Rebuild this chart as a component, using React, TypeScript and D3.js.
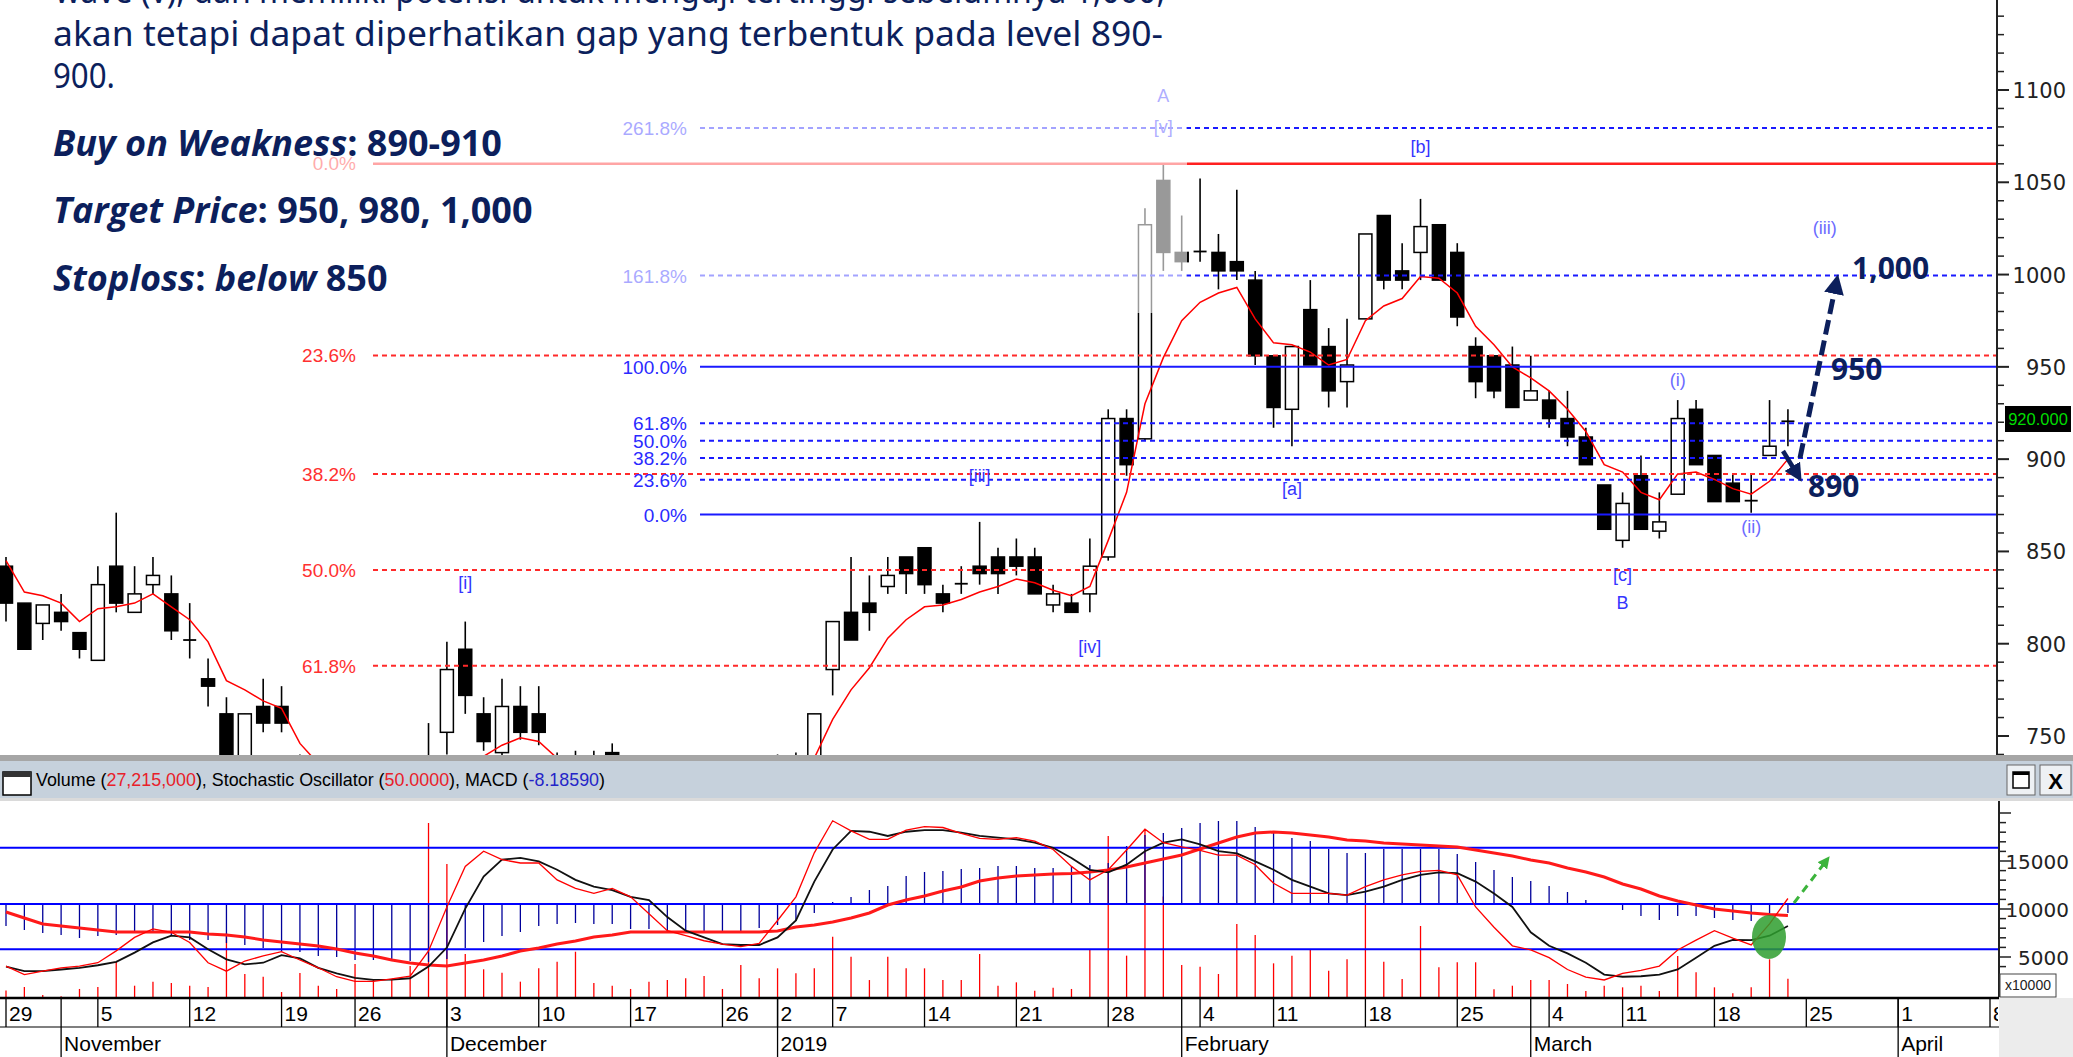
import React from 'react';
import * as d3 from 'd3';

const W = 2073;
const H = 1057;

// trading calendar (IDX holidays removed)
const holidays = ['2018-11-20', '2018-12-24', '2018-12-25', '2018-12-31', '2019-01-01', '2019-02-05', '2019-03-07'];
const fmt = d3.timeFormat('%Y-%m-%d');
const tradingDays = d3.timeDay
    .range(new Date(2018, 9, 29), new Date(2019, 3, 13))
    .filter(d => d.getDay() !== 0 && d.getDay() !== 6 && !holidays.includes(fmt(d)));
const idxOf = (s: string) => tradingDays.findIndex(d => fmt(d) === s);

const dayTicks = ['2018-10-29', '2018-11-05', '2018-11-12', '2018-11-19', '2018-11-26', '2018-12-03', '2018-12-10', '2018-12-17', '2018-12-26', '2019-01-02', '2019-01-07', '2019-01-14', '2019-01-21', '2019-01-28', '2019-02-04', '2019-02-11', '2019-02-18', '2019-02-25', '2019-03-04', '2019-03-11', '2019-03-18', '2019-03-25', '2019-04-01', '2019-04-08'];
const monthTicks = ['2018-11-01', '2018-12-03', '2019-01-02', '2019-02-01', '2019-03-01', '2019-04-01'];
const monthLabels = ['November', 'December', '2019', 'February', 'March', 'April'];

// OHLC, Oct 29 2018 .. Mar 22 2019
const opens = [842, 822, 811, 817, 806, 791, 842, 817, 832, 827, 802, 781, 762, 735, 766, 766, 735, 725, 720, 716, 705, 712, 708, 702, 752, 797, 762, 741, 766, 762, 738, 728, 735, 741, 730, 725, 728, 722, 716, 720, 718, 726, 735, 732, 736, 786, 817, 822, 831, 847, 852, 827, 832, 842, 847, 847, 847, 821, 822, 827, 847, 922, 911, 1051, 1012, 1012, 1012, 1007, 997, 956, 927, 981, 961, 942, 976, 1032, 1002, 1012, 1027, 1012, 961, 956, 951, 932, 932, 922, 912, 886, 856, 891, 861, 881, 927, 902, 887, 877, 902, 921];
const highs = [847, 822, 821, 827, 806, 842, 871, 842, 847, 837, 822, 792, 771, 762, 781, 777, 740, 732, 728, 722, 715, 720, 715, 757, 801, 812, 771, 781, 777, 777, 741, 742, 742, 746, 738, 735, 736, 730, 726, 728, 730, 738, 740, 741, 762, 812, 847, 837, 847, 847, 852, 832, 842, 866, 852, 857, 852, 832, 827, 857, 927, 927, 1036, 1060, 1032, 1052, 1022, 1046, 1002, 956, 961, 997, 971, 976, 1022, 1032, 1017, 1041, 1027, 1017, 966, 956, 961, 956, 937, 937, 917, 886, 882, 902, 882, 932, 932, 902, 892, 892, 932, 927];
const lows = [812, 797, 802, 807, 792, 791, 817, 817, 827, 802, 792, 766, 728, 728, 752, 752, 720, 715, 712, 700, 700, 705, 698, 700, 740, 762, 742, 738, 748, 745, 725, 722, 725, 728, 720, 718, 720, 712, 710, 712, 715, 722, 725, 728, 734, 772, 802, 807, 827, 827, 827, 817, 827, 832, 827, 837, 827, 817, 817, 817, 845, 891, 910, 1002, 1002, 1007, 992, 997, 951, 917, 907, 951, 928, 928, 976, 992, 992, 997, 997, 972, 933, 933, 928, 932, 917, 907, 897, 862, 852, 862, 857, 881, 897, 877, 877, 871, 902, 907];
const closes = [822, 797, 821, 812, 797, 832, 822, 827, 837, 807, 802, 777, 735, 762, 757, 757, 725, 720, 716, 705, 712, 708, 702, 736, 786, 772, 747, 766, 752, 752, 728, 735, 730, 732, 725, 728, 722, 716, 720, 718, 726, 735, 732, 736, 762, 812, 802, 817, 837, 838, 832, 822, 833, 838, 838, 842, 827, 827, 817, 842, 922, 897, 1027, 1012, 1007, 1013, 1002, 1002, 956, 928, 961, 951, 937, 951, 1022, 997, 997, 1026, 997, 977, 942, 937, 928, 937, 922, 912, 897, 862, 876, 862, 866, 922, 897, 877, 877, 878, 907, 920];
// 5-day average, red line
const ma5 = [845, 828, 826, 822, 812, 819, 820, 822, 827, 820, 813, 801, 780, 775, 769, 765, 746, 735, 728, 720, 714, 712, 710, 714, 725, 733, 739, 745, 749, 747, 738, 735, 734, 733, 732, 730, 727, 725, 722, 720, 721, 724, 727, 731, 738, 759, 775, 787, 803, 813, 820, 821, 824, 828, 831, 835, 833, 829, 826, 831, 856, 882, 930, 955, 975, 985, 990, 993, 976, 963, 962, 958, 951, 954, 975, 983, 987, 999, 998, 990, 972, 962, 950, 944, 937, 927, 915, 897, 893, 882, 878, 892, 893, 889, 884, 881, 888, 900];

// volume in x10000 shares
const volume = [1500, 1875, 1040, 900, 1670, 1875, 4510, 2010, 2430, 2290, 2010, 1875, 7500, 3230, 2950, 1350, 3330, 2010, 1670, 4270, 2600, 2600, 4060, 18960, 14690, 5310, 3720, 3370, 2430, 3820, 4510, 5550, 2290, 2010, 1670, 2430, 2600, 2780, 3020, 1670, 4170, 2780, 3820, 3300, 3820, 7120, 5030, 2600, 5030, 3820, 3820, 2600, 2600, 5310, 2000, 2360, 1490, 1800, 1670, 5730, 17600, 5140, 18230, 11290, 4170, 3990, 3230, 8440, 7290, 4340, 5140, 5730, 3580, 4760, 10520, 4510, 2710, 8230, 3920, 4450, 4450, 1630, 2010, 2600, 2600, 2190, 1460, 2010, 1840, 2010, 1460, 5100, 3400, 1840, 1220, 1840, 4760, 2722];
const macdHist = [-22, -26, -29, -31, -34, -32, -31, -28, -28, -32, -36, -36, -39, -41, -44, -47, -48, -52, -53, -56, -56, -57, -57, -58, -55, -44, -38, -32, -28, -22, -20, -19, -20, -20, -25, -25, -28, -27, -27, -27, -27, -24, -21, -17, -9, 2, 7, 14, 18, 28, 32, 33, 35, 36, 38, 38, 36, 36, 38, 39, 41, 58, 69, 71, 76, 81, 83, 83, 77, 71, 66, 63, 55, 51, 51, 55, 55, 55, 55, 50, 42, 34, 27, 23, 18, 12, 4, 1, -6, -12, -16, -12, -12, -14, -16, -17, -11, -9];
const macdSignal = [-8, -14, -20, -22, -24, -26, -28, -28, -28, -28, -28, -30, -31, -33, -36, -38, -40, -42, -45, -49, -52, -56, -59, -61, -62, -59, -56, -52, -47, -44, -40, -37, -33, -31, -28, -28, -28, -28, -28, -28, -28, -28, -27, -23, -21, -18, -14, -9, -1, 4, 8, 13, 17, 23, 26, 28, 29, 30, 30.5, 32, 34, 37, 41, 45, 49, 55, 61, 67, 71, 72, 71, 69, 67, 64, 63, 61, 60, 59, 58, 57, 54, 51, 48, 44, 41, 36, 32, 27, 20, 15, 8, 3, -1, -5, -7, -9, -10.5, -11.5];
const stochK = [10, 5, 7, 9, 10, 12, 19, 27, 32, 30, 24, 12, 7, 13, 16, 18.5, 13.6, 9, 3.7, 1, 1, 2.5, 4, 19, 45, 69, 78, 73, 71, 71, 61, 56, 53, 56, 51, 41, 31, 28, 25, 23, 21.5, 23.5, 37, 51, 77, 96, 90, 85, 85, 90.5, 92.5, 92, 88.5, 85.6, 85, 86, 84, 79, 69, 61, 67, 78.7, 91, 83, 80.6, 78.5, 75.7, 75.7, 70, 59, 53, 53, 53, 52, 57, 61, 64, 66, 66.6, 64, 45, 33, 22, 19.6, 15, 8, 3.5, 1.8, 5.7, 7.5, 10, 19.5, 25.4, 31, 26.6, 22.5, 35, 50];
const stochD = [9.7, 7, 7, 8, 9, 10.5, 12.5, 18, 24, 28, 27, 20, 14, 11, 12, 16.5, 14.6, 9, 5.7, 3, 1.8, 2, 2.8, 9.7, 21, 44, 63, 73, 74, 72, 67, 61, 57, 55, 51, 49, 39, 31, 27, 23, 22.5, 22.5, 27, 37, 60, 79, 90, 89.5, 87, 89.5, 90.5, 90.5, 89, 87, 86, 85, 83, 80, 74, 67, 65.5, 70, 78, 83, 85, 82, 78, 76.7, 72, 67, 61, 57, 53, 52, 54, 57, 61, 64, 65.5, 65, 60, 53, 45, 30, 22, 17.5, 12, 5, 3.7, 4, 5, 8, 15, 22, 25.5, 25.4, 28, 33.7];

// fibonacci sets
const redHigh = 1060;
const redLow = 620;
const redLevels = [0.236, 0.382, 0.5, 0.618];
const blueLow = 870;
const blueHigh = 950;
const blueLevels = [0, 0.236, 0.382, 0.5, 0.618, 1, 1.618, 2.618];

// elliott wave labels: date + price at label centre
const waveLabels = [
    { t: 'A', d: '2019-01-31', p: 1097, faded: true },
    { t: '[v]', d: '2019-01-31', p: 1080, faded: true },
    { t: '[b]', d: '2019-02-21', p: 1069 },
    { t: '[i]', d: '2018-12-04', p: 833 },
    { t: '[iii]', d: '2019-01-17', p: 891 },
    { t: '[iv]', d: '2019-01-25', p: 798 },
    { t: '[a]', d: '2019-02-12', p: 884 },
    { t: '[c]', d: '2019-03-11', p: 837 },
    { t: 'B', d: '2019-03-11', p: 822 },
    { t: '(i)', d: '2019-03-14', p: 943 },
    { t: '(ii)', d: '2019-03-20', p: 863 },
    { t: '(iii)', d: '2019-03-26', p: 1025 },
];

const navy = '#0c1f5c';
const sans = 'Liberation Sans, Arial, sans-serif';

export default function App() {
    const x = d3.scaleLinear().domain([0, 108]).range([6, 1990]);
    const yP = d3.scaleLinear().domain([750, 1100]).range([736, 90]);
    const yVol = d3.scaleLinear().domain([0, 20000]).range([1005, 813]);
    const ySto = d3.scaleLinear().domain([0, 100]).range([983, 814]);
    const yMacd = d3.scaleLinear().domain([-60, 60]).range([964, 844]);

    const maLine = d3.line<number>().x((d, i) => x(i)).y(d => yP(d));
    const kLine = d3.line<number>().x((d, i) => x(i)).y(d => ySto(d));
    const dLine = d3.line<number>().x((d, i) => x(i)).y(d => ySto(d));
    const sigLine = d3.line<number>().x((d, i) => x(i)).y(d => yMacd(d));

    const axisX = 1997;
    const priceTicks = d3.range(740, 1150, 10);
    const volTicks = d3.range(1000, 20001, 1000);

    return (
        <svg width={W} height={H} style={{ position: 'absolute', left: 0, top: 0, background: '#fff' }} fontFamily={sans}>
            <defs>
                <clipPath id="pclip"><rect x={0} y={0} width={axisX} height={755} /></clipPath>
                <clipPath id="lclip"><rect x={0} y={801} width={1999} height={196} /></clipPath>
                <clipPath id="dclip"><rect x={0} y={997} width={1998} height={60} /></clipPath>
                <marker id="navyHead" viewBox="0 0 10 10" refX={5} refY={5} markerWidth={4} markerHeight={4} orient="auto">
                    <path d="M0,0 L10,5 L0,10 z" fill={navy} />
                </marker>
                <marker id="greenHead" viewBox="0 0 10 10" refX={5} refY={5} markerWidth={4} markerHeight={4} orient="auto">
                    <path d="M0,0 L10,5 L0,10 z" fill="#3cb43c" />
                </marker>
            </defs>
            <rect x={0} y={0} width={W} height={H} fill="#fff" />

            {/* price panel */}
            <g clipPath="url(#pclip)">
                {closes.map((c, i) => {
                    const o = opens[i];
                    const cx = x(i);
                    const top = yP(Math.max(o, c));
                    const bot = yP(Math.min(o, c));
                    return (
                        <g key={i}>
                            <line x1={cx} x2={cx} y1={yP(highs[i])} y2={yP(lows[i])} stroke="#000" strokeWidth={1.6} />
                            {bot - top < 2.5 ? (
                                <line x1={cx - 6.5} x2={cx + 6.5} y1={(top + bot) / 2} y2={(top + bot) / 2} stroke="#000" strokeWidth={1.8} />
                            ) : (
                                <rect x={cx - 6.5} y={top} width={13} height={bot - top} fill={c >= o ? '#fff' : '#000'} stroke="#000" strokeWidth={1.5} />
                            )}
                        </g>
                    );
                })}
                <path d={maLine(ma5) || ''} fill="none" stroke="#ff0000" strokeWidth={1.5} />

                {/* red retracement */}
                <line x1={373} x2={axisX} y1={yP(redHigh)} y2={yP(redHigh)} stroke="#ff2020" strokeWidth={2.5} />
                <text x={356} y={yP(redHigh) + 6} textAnchor="end" fontSize={19} fill="#ff3030">0.0%</text>
                {redLevels.map(l => {
                    const yy = yP(redHigh - l * (redHigh - redLow));
                    return (
                        <g key={l}>
                            <line x1={373} x2={axisX} y1={yy} y2={yy} stroke="#ff2a2a" strokeWidth={2} strokeDasharray="5,4" />
                            <text x={356} y={yy + 7} textAnchor="end" fontSize={19} fill="#ff3030">{(l * 100).toFixed(1)}%</text>
                        </g>
                    );
                })}
                {/* blue projection */}
                {blueLevels.map(l => {
                    const yy = yP(blueLow + l * (blueHigh - blueLow));
                    const solid = l === 0 || l === 1;
                    return (
                        <g key={l}>
                            <line x1={700} x2={axisX} y1={yy} y2={yy} stroke="#1a1aff" strokeWidth={2} strokeDasharray={solid ? undefined : '5,4'} />
                            <text x={687} y={yy + 7} textAnchor="end" fontSize={19} fill="#2a2aff">{(l * 100).toFixed(1)}%</text>
                        </g>
                    );
                })}
            </g>

            {waveLabels.map(w => (
                <text key={w.t + w.d} x={x(idxOf(w.d))} y={yP(w.p) + 6} textAnchor="middle" fontSize={18}
                    fill={w.t.startsWith('(') ? '#6b6bff' : '#3535ff'}>{w.t}</text>
            ))}

            {/* washed area behind the note */}
            <rect x={0} y={0} width={1187} height={313} fill="#fff" opacity={0.6} />

            {/* note text */}
            <g fill={navy}>
                <text x={55} y={3} fontFamily="Noto Sans, Open Sans, sans-serif" fontSize={34} textLength={1110} lengthAdjust="spacingAndGlyphs">wave (v), dan memiliki potensi untuk menguji tertinggi sebelumnya 1,060,</text>
                <text x={53} y={46} fontFamily="Noto Sans, Open Sans, sans-serif" fontSize={34} textLength={1110} lengthAdjust="spacingAndGlyphs">akan tetapi dapat diperhatikan gap yang terbentuk pada level 890-</text>
                <text x={53} y={88} fontFamily="Noto Sans, Open Sans, sans-serif" fontSize={34} textLength={62} lengthAdjust="spacingAndGlyphs">900.</text>
                <text x={53} y={156} fontFamily="Open Sans, sans-serif" fontSize={36} fontWeight={700}>
                    <tspan fontStyle="italic">Buy on Weakness</tspan><tspan>: 890-910</tspan>
                </text>
                <text x={53} y={223} fontFamily="Open Sans, sans-serif" fontSize={36} fontWeight={700}>
                    <tspan fontStyle="italic">Target Price</tspan><tspan>: 950, 980, 1,000</tspan>
                </text>
                <text x={53} y={291} fontFamily="Open Sans, sans-serif" fontSize={36} fontWeight={700}>
                    <tspan fontStyle="italic">Stoploss</tspan><tspan>: </tspan><tspan fontStyle="italic">below</tspan><tspan> 850</tspan>
                </text>
            </g>

            {/* targets */}
            <line x1={1783} y1={451} x2={1797} y2={474} stroke={navy} strokeWidth={4.5} markerEnd="url(#navyHead)" />
            <line x1={1800} y1={458} x2={1836} y2={284} stroke={navy} strokeWidth={5} strokeDasharray="15,6" markerEnd="url(#navyHead)" />
            <g fontFamily="Open Sans, sans-serif" fontWeight={700} fontSize={30} fill={navy}>
                <text x={1852} y={279}>1,000</text>
                <text x={1831} y={380}>950</text>
                <text x={1808} y={497}>890</text>
            </g>

            {/* price axis */}
            <line x1={axisX} x2={axisX} y1={0} y2={755} stroke="#222" strokeWidth={2} />
            {priceTicks.map(p => (
                <line key={p} x1={axisX} x2={axisX + (p % 50 === 0 ? 12 : 7)} y1={yP(p)} y2={yP(p)} stroke="#222" strokeWidth={p % 50 === 0 ? 2 : 1.5} />
            ))}
            {priceTicks.filter(p => p % 50 === 0 && p >= 750 && p <= 1100).map(p => (
                <text key={p} x={2066} y={yP(p) + 8} textAnchor="end" fontFamily="DejaVu Sans, sans-serif" fontSize={21} fill="#222">{p}</text>
            ))}
            <rect x={2005} y={406} width={66} height={26} fill="#000" />
            <text x={2038} y={425} textAnchor="middle" fontSize={16.5} fill="#00dd00">920.000</text>

            {/* panel separator + header */}
            <rect x={0} y={755} width={W} height={6} fill="#a6a6a6" />
            <rect x={0} y={761} width={W} height={37} fill="#c6d1dc" />
            <rect x={0} y={798} width={W} height={3} fill="#dadada" />
            <rect x={3} y={772} width={28} height={23} fill="#fff" stroke="#000" strokeWidth={1.5} />
            <rect x={3} y={772} width={28} height={5} fill="#333" />
            <text x={36} y={786} fontSize={19} fontFamily="Liberation Sans Narrow, Liberation Sans, sans-serif" textLength={569} lengthAdjust="spacingAndGlyphs" fill="#000">
                <tspan>Volume (</tspan><tspan fill="#e8202a">27,215,000</tspan><tspan>), Stochastic Oscillator (</tspan><tspan fill="#e8202a">50.0000</tspan><tspan>), MACD (</tspan><tspan fill="#2424c8">-8.18590</tspan><tspan>)</tspan>
            </text>
            <rect x={2007} y={765} width={28} height={30} fill="#eef1f4" stroke="#666" />
            <rect x={2013} y={772} width={16} height={16} fill="#fff" stroke="#000" strokeWidth={1.5} />
            <rect x={2013} y={772} width={16} height={3} fill="#000" />
            <rect x={2040} y={765} width={31} height={30} fill="#eef1f4" stroke="#666" />
            <text x={2055.5} y={789} textAnchor="middle" fontSize={22} fontWeight={700} fill="#000">X</text>

            {/* lower panel */}
            <g clipPath="url(#lclip)">
                {volume.map((v, i) => (
                    <line key={i} x1={x(i)} x2={x(i)} y1={997} y2={yVol(v)} stroke="#ff0000" strokeWidth={1.3} />
                ))}
                {macdHist.map((v, i) => (
                    <line key={i} x1={x(i)} x2={x(i)} y1={yMacd(0)} y2={yMacd(v)} stroke="#00009a" strokeWidth={1.3} />
                ))}
                {[ySto(80), yMacd(0), ySto(20)].map(yy => (
                    <line key={yy} x1={0} x2={1999} y1={yy} y2={yy} stroke="#0000ff" strokeWidth={2} />
                ))}
                <path d={sigLine(macdSignal) || ''} fill="none" stroke="#ff1a1a" strokeWidth={3} />
                <path d={dLine(stochD) || ''} fill="none" stroke="#111" strokeWidth={1.8} />
                <path d={kLine(stochK) || ''} fill="none" stroke="#ff0000" strokeWidth={1.3} />
                <ellipse cx={1769} cy={937} rx={17} ry={22} fill="#2e9e2e" opacity={0.85} />
                <line x1={1794} y1={903} x2={1826} y2={861} stroke="#3cb43c" strokeWidth={3} strokeDasharray="8,6" markerEnd="url(#greenHead)" />
            </g>
            <line x1={1999} x2={1999} y1={801} y2={997} stroke="#222" strokeWidth={2} />
            {volTicks.map(v => (
                <line key={v} x1={1999} x2={1999 + (v % 5000 === 0 ? 12 : 7)} y1={yVol(v)} y2={yVol(v)} stroke="#222" strokeWidth={1.5} />
            ))}
            {[5000, 10000, 15000].map(v => (
                <text key={v} x={2069} y={yVol(v) + 8} textAnchor="end" fontFamily="DejaVu Sans, sans-serif" fontSize={20} fill="#222">{v}</text>
            ))}
            <rect x={2000} y={974} width={56} height={23} fill="#fff" stroke="#444" />
            <text x={2028} y={990} textAnchor="middle" fontSize={14} fill="#222">x10000</text>

            {/* date axis */}
            <rect x={1999} y={998} width={74} height={59} fill="#ececec" />
            <line x1={0} x2={1999} y1={998} y2={998} stroke="#000" strokeWidth={2.5} />
            <line x1={0} x2={1999} y1={1027} y2={1027} stroke="#000" strokeWidth={1.2} />
            <g clipPath="url(#dclip)">
                {dayTicks.map(s => {
                    const xx = x(idxOf(s));
                    return (
                        <g key={s}>
                            <line x1={xx} x2={xx} y1={998} y2={1027} stroke="#000" strokeWidth={1.3} />
                            <text x={xx + 3} y={1021} fontSize={21} fill="#000">{+s.slice(8)}</text>
                        </g>
                    );
                })}
                {monthTicks.map((s, k) => {
                    const xx = x(idxOf(s));
                    return (
                        <g key={s}>
                            <line x1={xx} x2={xx} y1={998} y2={1057} stroke="#000" strokeWidth={1.3} />
                            <text x={xx + 3} y={1051} fontSize={21} fill="#000">{monthLabels[k]}</text>
                        </g>
                    );
                })}
            </g>
        </svg>
    );
}
